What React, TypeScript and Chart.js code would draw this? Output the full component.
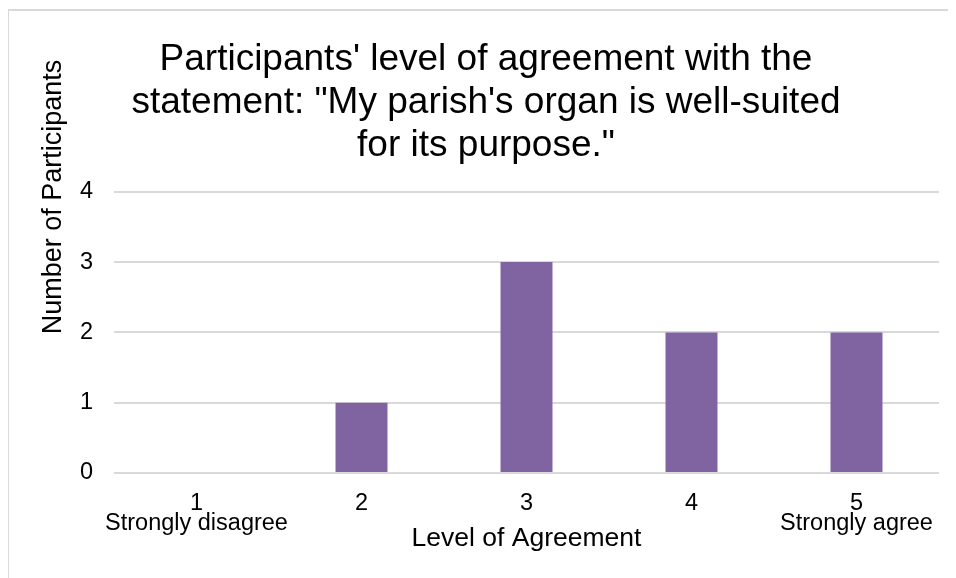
import React, { useEffect, useRef } from "react";
import { Chart, registerables } from "chart.js";

Chart.register(...registerables);

const categories: string[][] = [["1", "Strongly disagree"], ["2"], ["3"], ["4"], ["5", "Strongly agree"]];
const participants: number[] = [0, 1, 3, 2, 2];
const yTicks: number[] = [0, 1, 2, 3, 4];
const titleLines: string[] = [
  "Participants' level of agreement with the",
  "statement: \"My parish's organ is well-suited",
  "for its purpose.\"",
];
const yTitle = "Number of Participants";
const xTitle = "Level of Agreement";

const FONT = "'Liberation Sans', Arial, sans-serif";

const yTitlePlugin = {
  id: "yTitlePlugin",
  afterDraw(chart: any) {
    const ctx = chart.ctx;
    ctx.save();
    ctx.font = `27px ${FONT}`;
    ctx.fillStyle = "#000";
    ctx.textAlign = "center";
    ctx.textBaseline = "middle";
    ctx.translate(46, 189);
    ctx.rotate(-Math.PI / 2);
    ctx.fillText(yTitle, 0, 0);
    ctx.restore();
  },
};

export default function App() {
  const ref = useRef<HTMLCanvasElement | null>(null);
  useEffect(() => {
    if (!ref.current) return;
    const chart = new Chart(ref.current, {
      type: "bar",
      data: {
        labels: categories,
        datasets: [
          {
            data: participants,
            backgroundColor: "#8064A2",
            borderWidth: 0,
            barPercentage: 0.315,
            categoryPercentage: 1,
          },
        ],
      },
      options: {
        animation: false,
        responsive: false,
        maintainAspectRatio: false,
        devicePixelRatio: 1,
        layout: { padding: { left: 25, right: 17, top: 0, bottom: 0 } },
        plugins: {
          legend: { display: false },
          tooltip: { enabled: false },
          title: {
            display: true,
            text: titleLines,
            color: "#000",
            font: { family: FONT, size: 37, weight: "normal", lineHeight: 1.16 },
            padding: { top: 30, bottom: 25 },
          },
        },
        scales: {
          x: {
            grid: { display: false },
            border: { display: false },
            ticks: {
              color: "#000",
              font: { family: FONT, size: 23.5, lineHeight: 0.86 },
              padding: 12,
              maxRotation: 0,
              autoSkip: false,
            },
            title: {
              display: true,
              text: xTitle,
              color: "#000",
              font: { family: FONT, size: 26.5, lineHeight: 1.2 },
              padding: { top: 0, bottom: 23 },
            },
            afterFit: (s: any) => {
              s.height = 105;
            },
          },
          y: {
            min: 0,
            max: 4,
            afterBuildTicks: (s: any) => {
              s.ticks = yTicks.map((v) => ({ value: v }));
            },
            grid: { color: "#D9D9D9", lineWidth: 2, drawTicks: false },
            border: { display: false },
            ticks: {
              color: "#000",
              font: { family: FONT, size: 23.5 },
              padding: 21,
            },
            afterFit: (s: any) => {
              s.width = 81;
            },
          },
        },
      },
      plugins: [yTitlePlugin],
    });
    return () => chart.destroy();
  }, []);
  return (
    <div style={{ position: "relative", width: 948, height: 570 }}>
      <div
        style={{
          position: "absolute",
          left: -1,
          top: 1,
          width: 949,
          height: 569,
          boxSizing: "border-box",
          borderLeft: "2px solid #D9D9D9",
          borderTop: "2px solid #D9D9D9",
        }}
      />
      <canvas ref={ref} width={948} height={570} style={{ position: "absolute", left: 0, top: 0 }} />
    </div>
  );
}
